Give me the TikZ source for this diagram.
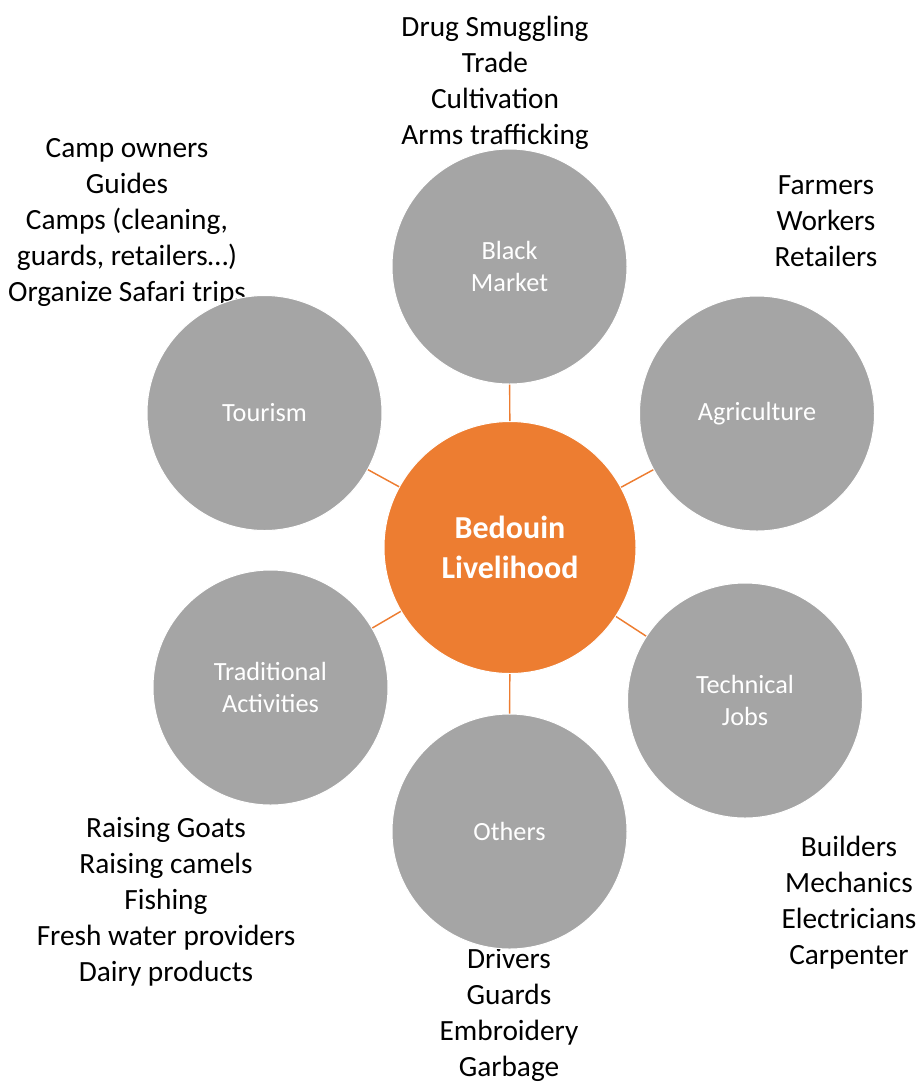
\documentclass[tikz,border=0pt]{standalone}
\usepackage{fontspec}
\setmainfont{Carlito}
\definecolor{cgray}{HTML}{A5A5A5}
\definecolor{corange}{HTML}{ED7D31}
\begin{document}
\begin{tikzpicture}[x=0.75pt,y=-0.75pt,
  listtext/.style={align=center,inner sep=0pt,text=black,font=\fontsize{22}{27}\selectfont},
  topic/.style={circle,fill=cgray,draw=white,line width=0.75pt,minimum size=176.25pt,inner sep=0pt,align=center,text=white,font=\fontsize{19.7}{24}\selectfont},
  hub/.style={circle,fill=corange,draw=white,line width=0.75pt,minimum size=189pt,inner sep=0pt,align=center,text=white,font=\bfseries\fontsize{24}{30}\selectfont},
  link/.style={draw=corange,line width=1.1pt}]
\useasboundingbox (0,0) rectangle (920,1083);
% lists
\node[listtext] (tbm) at (495,83) {Drug Smuggling\\Trade\\Cultivation\\Arms trafficking};
\node[listtext] (tto) at (127,222) {Camp owners\\Guides\\Camps (cleaning,\\guards, retailers…)\\Organize Safari trips};
\node[listtext] (tag) at (826,221) {Farmers\\Workers\\Retailers};
\node[listtext] (ttj) at (849,903) {Builders\\Mechanics\\Electricians\\Carpenter};
\node[listtext] (tta) at (166,902) {Raising Goats\\Raising camels\\Fishing\\Fresh water providers\\Dairy products};
\node[listtext] (tot) at (509,1015) {Drivers\\Guards\\Embroidery\\Garbage};
% circles
\node[hub] (hub) at (510,547.5) {Bedouin\\Livelihood};
\node[topic] (bm) at (509.5,266.5) {Black\\Market};
\node[topic] (ag) at (757,413.5) {Agriculture};
\node[topic] (tj) at (745,700.5) {Technical\\Jobs};
\node[topic] (ot) at (509.5,831.5) {Others};
\node[topic] (ta) at (270.5,687.5) {Traditional\\Activities};
\node[topic] (to) at (264.5,413) {Tourism};
% links
\foreach \n in {bm,ag,tj,ot,ta,to} \draw[link] (hub) -- (\n);
\end{tikzpicture}
\end{document}
